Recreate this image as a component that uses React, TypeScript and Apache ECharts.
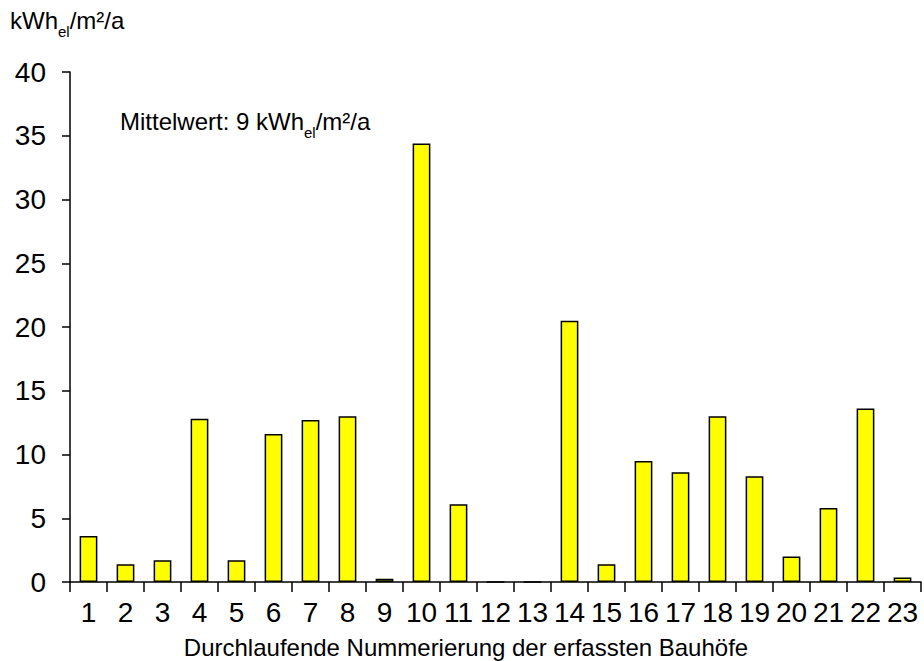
import React, { useEffect, useRef } from "react";
import * as echarts from "echarts";

const categories = ["1","2","3","4","5","6","7","8","9","10","11","12","13","14","15","16","17","18","19","20","21","22","23"];
const values = [3.6, 1.4, 1.7, 12.8, 1.7, 11.6, 12.7, 13.0, 0.25, 34.4, 6.1, 0, 0, 20.5, 1.4, 9.5, 8.6, 13.0, 8.3, 2.0, 5.8, 13.6, 0.35];
const yTicks = { min: 0, max: 40, interval: 5 };
const xAxisTitle = "Durchlaufende Nummerierung der erfassten Bauhöfe";
const meanLabel = ["Mittelwert: 9 kWh", "el", "/m²/a"];
const unitLabel = ["kWh", "el", "/m²/a"];

export default function App() {
  const ref = useRef<HTMLDivElement>(null);
  useEffect(() => {
    if (!ref.current) return;
    const chart = echarts.init(ref.current, null, { renderer: "svg" });
    const font = "'Liberation Sans', Arial, sans-serif";
    const rich = {
      a: { fontSize: 24, fontFamily: font, color: "#000", lineHeight: 30, verticalAlign: "bottom" },
      s: { fontSize: 15, fontFamily: font, color: "#000", lineHeight: 30, verticalAlign: "bottom", padding: [0, 0, -7, 0] },
    };
    chart.setOption({
      animation: false,
      backgroundColor: "#fff",
      grid: { left: 70, top: 72, right: 3, bottom: 79, containLabel: false, outerBoundsMode: "none" },
      xAxis: {
        type: "category",
        data: categories,
        boundaryGap: true,
        axisLine: { show: true, lineStyle: { color: "#000", width: 1.5 } },
        axisTick: { show: true, alignWithLabel: false, length: 10, lineStyle: { color: "#000", width: 1.5 } },
        axisLabel: { color: "#000", fontSize: 28, fontFamily: font, margin: 16, interval: 0, hideOverlap: false },
      },
      yAxis: {
        type: "value",
        min: yTicks.min,
        max: yTicks.max,
        interval: yTicks.interval,
        axisLine: { show: true, lineStyle: { color: "#000", width: 1.5 } },
        axisTick: { show: true, length: 8, lineStyle: { color: "#000", width: 1.5 } },
        axisLabel: { color: "#000", fontSize: 28, fontFamily: font, margin: 24 },
        splitLine: { show: false },
      },
      series: [
        {
          type: "bar",
          data: values,
          barWidth: "48%",
          itemStyle: { color: "#ffff00", borderColor: "#000", borderWidth: 1.5 },
        },
      ],
      graphic: [
        {
          type: "text",
          left: 10,
          top: 8,
          style: {
            text: `{a|${unitLabel[0]}}{s|${unitLabel[1]}}{a|${unitLabel[2]}}`,
            rich,
          },
        },
        {
          type: "text",
          left: 120,
          top: 109,
          style: {
            text: `{a|${meanLabel[0]}}{s|${meanLabel[1]}}{a|${meanLabel[2]}}`,
            rich,
          },
        },
        {
          type: "text",
          x: 466,
          y: 647,
          style: {
            text: xAxisTitle,
            fontSize: 24,
            fontFamily: font,
            fill: "#000",
            align: "center",
            verticalAlign: "middle",
          },
        },
      ],
    });
    return () => chart.dispose();
  }, []);
  return <div ref={ref} style={{ width: 924, height: 661, position: "absolute", left: 0, top: 0 }} />;
}
